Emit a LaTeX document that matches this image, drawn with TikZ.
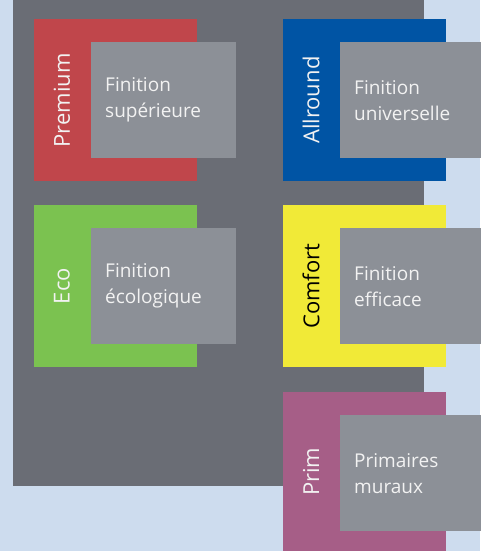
\documentclass[tikz,border=0pt]{standalone}
\usepackage{fontspec}
\setmainfont{Open Sans}
\usepackage{tikz}
\usetikzlibrary{positioning}

\definecolor{bgblue}{HTML}{CDDCEE}
\definecolor{panelgrey}{HTML}{6A6D75}
\definecolor{boxgrey}{HTML}{8C9097}
\definecolor{premiumred}{HTML}{C0464B}
\definecolor{allroundblue}{HTML}{0054A4}
\definecolor{ecogreen}{HTML}{7BC250}
\definecolor{comfortyellow}{HTML}{F1EA37}
\definecolor{primpurple}{HTML}{A65E87}
\definecolor{lighttext}{HTML}{F2F2F2}

\begin{document}
\begin{tikzpicture}[
    x=1pt, y=-1pt,
    font=\fontsize{19}{26}\selectfont,
    panel/.style={
		rectangle,
		fill=panelgrey,
		anchor=north west,
		minimum width=411pt,
		minimum height=486pt
	},
    family/.style={
		rectangle,
		anchor=north west,
		minimum width=163pt,
		minimum height=162pt,
		inner sep=0pt
	},
    finish/.style={
		rectangle,
		fill=boxgrey,
		anchor=north west,
		minimum width=145pt,
		minimum height=116pt,
		text width=117pt,
		inner xsep=14pt,
		align=left,
		text=lighttext
	},
	tag/.style={
		rotate=90,
		font=\fontsize{22}{26}\selectfont,
		text=lighttext
	}
  ]
    % background and the big grey panel
  \fill [bgblue] (0,0) rectangle (480,551);
  \useasboundingbox (0,0) rectangle (480,551);
  \node [panel] (panel) at (13,0) {};

    % the coloured blocks
  \node [family, fill=premiumred] (premium) at (34,19) {};
  \node [family, fill=allroundblue] (allround) at (283,19) {};
  \node [family, fill=ecogreen] (eco) at (34,205) {};
  \node [family, fill=comfortyellow] (comfort) at (283,205) {};
  \node [family, fill=primpurple, minimum height=159pt] (prim) at (283,392) {};

    % names on the left strip
  \node [tag] (premiumtag) at ([xshift=28pt]premium.west) {Premium};
  \node [tag] (allroundtag) at ([xshift=28pt]allround.west) {Allround};
  \node [tag] (ecotag) at ([xshift=28pt]eco.west) {Eco};
  \node [tag, text=black] (comforttag) at ([xshift=28pt]comfort.west) {Comfort};
  \node [tag] (primtag) at ([xshift=28pt]prim.west) {Prim};

    % the grey finish boxes
  \node [finish] (premiumfin) at ([xshift=57pt, yshift=-23pt]premium.north west)
 {Finition\\supérieure};
  \node [finish, minimum width=140pt] (allroundfin) at ([xshift=57pt, yshift=-23pt]allround.north west)
 {Finition\\universelle};
  \node [finish] (ecofin) at ([xshift=57pt, yshift=-23pt]eco.north west)
 {Finition\\écologique};
  \node [finish, minimum width=140pt] (comfortfin) at ([xshift=57pt, yshift=-23pt]comfort.north west)
 {Finition\\efficace};
  \node [finish, minimum width=140pt] (primfin) at ([xshift=57pt, yshift=-23pt]prim.north west)
 {Primaires\\muraux};

\end{tikzpicture}
\end{document}
